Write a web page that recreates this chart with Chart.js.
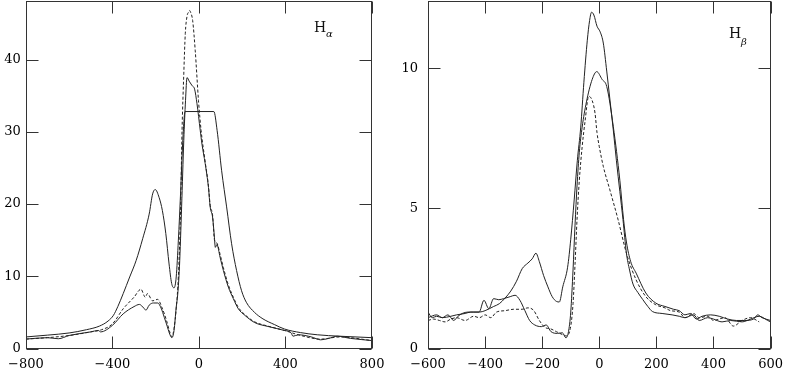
<!DOCTYPE html>
<html>
<head>
<meta charset="utf-8">
<script src="https://cdn.jsdelivr.net/npm/chart.js@4.4.1/dist/chart.umd.min.js"></script>
<style>
  body { margin: 0; background: #fff; }
  #wrap { position: relative; width: 791px; height: 370px; }
  canvas { position: absolute; top: 0; }
  #haChart { left: 0; }
  #hbChart { left: 395px; }
</style>
</head>
<body>
<div id="wrap">
  <canvas id="haChart" width="395" height="370"></canvas>
  <canvas id="hbChart" width="396" height="370"></canvas>
</div>
<script>
// ---- H-alpha panel (velocity vs flux) ----
const haVelA = [-800,-700,-600,-520,-460,-420,-395,-375,-350,-320,-290,-260,-230,-214,-202,-184,-169,-153,-138,-126,-115,-105,-95,-85,-75,-64,69,84,105,128,151,174,197,219,257,296,350,395,470,547,650,800];
const haFluxA = [1.6,1.85,2.15,2.6,3.1,3.8,4.6,5.8,7.6,9.9,12.2,15.2,18.6,21.4,22.0,20.9,19.1,15.9,11.7,9.0,8.4,9.9,15.0,21.4,28.5,32.8,32.8,30.2,24.6,19.6,14.5,10.8,8.0,6.4,5.0,4.1,3.3,2.7,2.2,1.9,1.7,1.5];

const haVelB = [-800,-700,-650,-600,-500,-465,-455,-400,-350,-300,-275,-255,-245,-230,-210,-190,-175,-160,-150,-135,-125,-115,-105,-98,-90,-80,-70,-62,-55,-45,-32,-20,-9,6,14,29,44,52,63,70,76,83,98,113,136,159,182,212,257,319,395,425,435,460,520,563,600,640,700,800];
const haFluxB = [1.3,1.5,1.35,1.8,2.3,2.5,2.3,3.2,4.8,5.8,6.1,5.6,5.3,6.0,6.3,6.3,5.6,4.3,3.4,2.0,1.5,2.5,5.7,7.5,11.3,19.6,28.8,34.3,37.5,37.0,36.4,35.9,33.9,30.2,28.3,25.6,22.3,19.6,18.2,16.0,14.0,14.4,12.6,10.8,8.5,6.9,5.5,4.6,3.6,3.05,2.5,2.2,1.7,1.9,1.6,1.2,1.4,1.7,1.4,1.1];

const haVelC = [-800,-700,-600,-500,-450,-400,-350,-300,-268,-248,-238,-214,-191,-170,-150,-135,-125,-115,-105,-95,-85,-78,-70,-63,-55,-47,-44,-38,-29,-17,-2,10,29,44,52,63,72,83,98,113,136,159,182,212,257,319,395,471,563,650,800];
const haFluxC = [1.3,1.5,1.8,2.3,2.6,3.4,5.5,7.1,8.2,7.1,7.6,6.6,6.8,5.6,3.9,2.3,1.6,2.8,5.5,10.0,19.0,30.2,38.0,43.6,46.0,46.6,46.8,46.5,45.4,41.2,34.3,30.2,25.8,22.5,19.8,18.5,15.0,14.6,13.0,11.2,8.8,7.1,5.7,4.7,3.7,3.1,2.5,1.8,1.3,1.6,1.1];

const haXRange = [-800, 800];
const haYRange = [0, 48.1];
const haXLabels = [-800, -400, 0, 400, 800];
const haYLabels = [0, 10, 20, 30, 40];

// ---- H-beta panel ----
const hbVelD = [-600,-570,-550,-520,-500,-470,-450,-420,-400,-370,-350,-330,-310,-290,-270,-250,-235,-222,-210,-195,-180,-165,-150,-140,-128,-111,-100,-88,-77,-65,-54,-42,-34,-27,-19,-8,3,14,26,37,49,60,72,83,95,106,118,135,152,170,186,220,255,280,300,330,350,380,400,430,460,500,530,560,590,600];
const hbFluxD = [1.1,1.2,1.1,1.15,1.2,1.25,1.3,1.3,1.35,1.5,1.6,1.8,2.05,2.4,2.85,3.05,3.2,3.4,3.1,2.6,2.2,1.85,1.68,1.66,2.2,2.9,3.9,5.3,6.7,7.9,9.5,11.0,11.7,12.0,11.9,11.5,11.3,10.9,9.9,8.9,7.8,6.7,5.6,4.6,3.4,2.8,2.3,2.0,1.75,1.5,1.32,1.25,1.2,1.15,1.1,1.2,1.0,1.1,1.05,0.95,1.0,0.95,1.05,1.15,1.0,0.95];

const hbVelE = [-600,-585,-570,-550,-530,-510,-495,-480,-460,-440,-421,-404,-387,-370,-352,-335,-312,-295,-278,-261,-244,-226,-203,-186,-169,-146,-129,-117,-108,-100,-92,-85,-78,-70,-60,-45,-25,-9,10,26,49,72,85,95,110,129,163,198,230,260,280,300,320,340,360,390,420,450,480,510,540,555,570,600];
const hbFluxE = [1.3,1.1,1.15,1.1,1.2,1.0,1.15,1.25,1.3,1.3,1.3,1.72,1.42,1.78,1.74,1.78,1.85,1.9,1.72,1.36,1.0,0.84,0.78,0.84,0.6,0.54,0.56,0.38,0.6,1.3,2.8,4.4,5.8,7.0,7.9,8.8,9.6,9.88,9.6,9.35,7.92,6.0,4.6,3.8,3.1,2.69,1.98,1.62,1.5,1.4,1.35,1.2,1.25,1.05,1.15,1.2,1.15,1.05,1.0,1.0,1.05,1.2,1.1,1.0];

const hbVelF = [-600,-580,-560,-540,-520,-500,-470,-440,-420,-400,-380,-360,-330,-300,-270,-250,-230,-210,-190,-170,-150,-130,-115,-100,-92,-85,-78,-70,-60,-50,-37,-25,-15,-8,0,14,37,66,95,129,163,198,230,250,280,300,330,350,380,400,440,470,500,530,560];
const hbFluxF = [1.0,1.05,1.0,0.95,1.05,1.1,1.0,1.15,1.1,1.2,1.1,1.3,1.35,1.4,1.4,1.45,1.36,1.0,0.75,0.7,0.6,0.5,0.45,0.8,1.6,3.0,4.6,6.0,7.2,8.1,9.0,8.85,8.4,7.7,7.2,6.5,5.66,4.59,3.4,2.45,1.85,1.56,1.45,1.35,1.3,1.1,1.25,1.1,1.15,1.0,1.1,0.8,1.0,1.1,0.95];

const hbXRange = [-600, 600];
const hbYRange = [0, 12.4];
const hbXLabels = [-600, -400, -200, 0, 200, 400, 600];
const hbYLabels = [0, 5, 10];

const LINE = '#222';
const FONT = '"DejaVu Serif", serif';

function toPoints(xs, ys) {
  return xs.map((x, i) => ({ x: x, y: ys[i] }));
}

function fmt(v) {
  return v < 0 ? '\u2212' + Math.abs(v) : String(v);
}

function series(xs, ys, dashed) {
  return {
    data: toPoints(xs, ys),
    borderColor: LINE,
    borderWidth: 1,
    borderDash: dashed ? [3, 2] : [],
    pointRadius: 0,
    cubicInterpolationMode: 'monotone',
    fill: false
  };
}

const near = (v, step) => Math.abs(v / step - Math.round(v / step)) < 1e-6;

// box around the plot, ticks pointing inwards on all four sides, line label
const frameTicks = {
  id: 'frameTicks',
  afterDraw(chart, args, o) {
    const { ctx, chartArea: a, scales: { x, y } } = chart;
    const L = Math.round(a.left) + 0.5, R = Math.round(a.right) - 0.5;
    const T = Math.round(a.top) + 0.5, B = Math.round(a.bottom) - 0.5;
    ctx.save();
    ctx.strokeStyle = '#333';
    ctx.lineWidth = 1;
    ctx.strokeRect(L, T, R - L, B - T);
    ctx.beginPath();
    x.ticks.forEach(t => {
      if (!near(t.value, o.xStep)) return;
      const len = near(t.value, o.xMajor) ? 12 : 6;
      const px = Math.round(x.getPixelForValue(t.value)) + 0.5;
      ctx.moveTo(px, B); ctx.lineTo(px, B - len);
      ctx.moveTo(px, T); ctx.lineTo(px, T + len);
    });
    y.ticks.forEach(t => {
      if (!near(t.value, o.yStep)) return;
      const len = near(t.value, o.yMajor) ? 12 : 6;
      const py = Math.round(y.getPixelForValue(t.value)) + 0.5;
      ctx.moveTo(L, py); ctx.lineTo(L + len, py);
      ctx.moveTo(R, py); ctx.lineTo(R - len, py);
    });
    ctx.stroke();
    ctx.fillStyle = '#111';
    ctx.textBaseline = 'alphabetic';
    ctx.font = '14px ' + FONT;
    ctx.fillText('H', o.labelX, o.labelY);
    ctx.font = 'italic 10px ' + FONT;
    ctx.fillText(o.sub, o.labelX + 12, o.labelY + o.subDrop);
    ctx.restore();
  }
};

function makePanel(id, datasets, p) {
  new Chart(document.getElementById(id), {
    type: 'line',
    data: { datasets: datasets },
    options: {
      responsive: false,
      animation: false,
      layout: { padding: { top: 1, right: p.padRight, left: 0, bottom: 0 } },
      plugins: {
        legend: { display: false },
        tooltip: { enabled: false },
        frameTicks: p.frame
      },
      scales: {
        x: {
          type: 'linear',
          min: p.xRange[0], max: p.xRange[1],
          grid: { display: false, drawTicks: false },
          border: { display: false },
          afterFit: s => { s.height = 21.5; },
          ticks: {
            stepSize: p.frame.xStep,
            autoSkip: false,
            maxRotation: 0,
            padding: 8,
            color: '#000',
            font: { family: FONT, size: 13 },
            callback: v => p.xLabels.includes(v) ? fmt(v) : null
          }
        },
        y: {
          min: p.yRange[0], max: p.yRange[1],
          grid: { display: false, drawTicks: false },
          border: { display: false },
          afterFit: s => { s.width = p.yWidth; s.paddingTop = 0; s.paddingBottom = 0; },
          ticks: {
            stepSize: p.frame.yStep,
            includeBounds: false,
            autoSkip: false,
            padding: p.yPad,
            color: '#000',
            font: { family: FONT, size: 13 },
            callback: v => p.yLabels.includes(v) ? fmt(v) : null
          }
        }
      }
    },
    plugins: [frameTicks]
  });
}

makePanel('haChart', [
  series(haVelA, haFluxA, false),
  series(haVelB, haFluxB, false),
  series(haVelC, haFluxC, true)
], {
  xRange: haXRange, yRange: haYRange, xLabels: haXLabels, yLabels: haYLabels,
  padRight: 23, yWidth: 22, yPad: 5,
  frame: { xStep: 100, xMajor: 400, yStep: 2, yMajor: 10, sub: '\u03b1', labelX: 314, labelY: 32, subDrop: 5 }
});

makePanel('hbChart', [
  series(hbVelD, hbFluxD, false),
  series(hbVelE, hbFluxE, false),
  series(hbVelF, hbFluxF, true)
], {
  xRange: hbXRange, yRange: hbYRange, xLabels: hbXLabels, yLabels: hbYLabels,
  padRight: 14, yWidth: 33, yPad: 10,
  frame: { xStep: 50, xMajor: 200, yStep: 1, yMajor: 5, sub: '\u03b2', labelX: 334, labelY: 38, subDrop: 7 }
});
</script>
</body>
</html>
